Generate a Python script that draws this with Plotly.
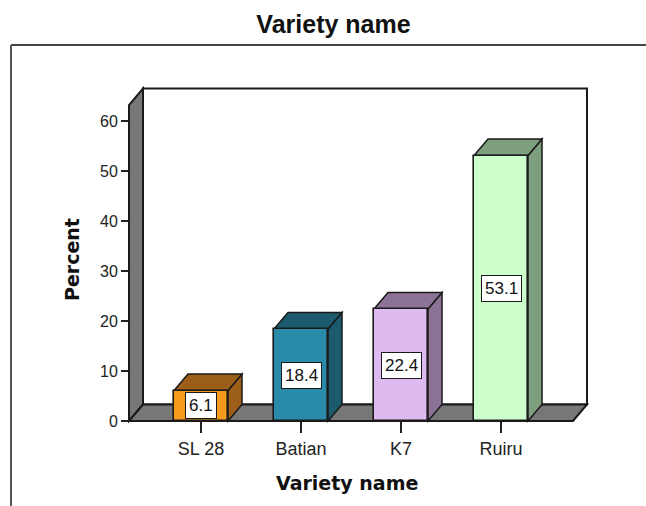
import plotly.graph_objects as go

# Data
categories = ["SL 28", "Batian", "K7", "Ruiru"]
percent = [6.1, 18.4, 22.4, 53.1]
front_colors = ["#F79B1E", "#2A8AAA", "#DDBBF0", "#CCFFCC"]
shade_colors = ["#9C5E18", "#1C5B6E", "#8C7396", "#7E9F7E"]
y_ticks = [0, 10, 20, 30, 40, 50, 60]

# Figure geometry (pixels)
W, H = 646, 506
L, R, T, B = 126, 55, 84, 83
PW, PH = W - L - R, H - T - B

# Axis ranges: 100 px per category step, 5 px per percent
X_RANGE = [-0.75, 3.90]
Y_RANGE = [-0.4, 67.4]

# 3D box: front floor span, wall height and depth offset
XL, XR, YTOP = -0.72, 3.72, 63.2
DX, DY = 0.14, 3.3
BAR_W = 0.54

WALL = "#777777"
EDGE = "#1a1a1a"


def px(x):
    return (x - L) / PW


def py(y):
    return (H - B - y) / PH


def poly(points, fill, width=1.5, layer="below"):
    path = "M " + " L ".join(f"{x},{y}" for x, y in points) + " Z"
    return dict(type="path", path=path, xref="x", yref="y", fillcolor=fill,
                line=dict(color=EDGE, width=width), layer=layer)


xs = list(range(len(categories)))
shapes = []

# back wall
shapes.append(poly([(XL + DX, DY), (XR + DX, DY), (XR + DX, YTOP + DY), (XL + DX, YTOP + DY)], "white", 2))
# left wall
shapes.append(poly([(XL, 0), (XL + DX, DY), (XL + DX, YTOP + DY), (XL, YTOP)], WALL, 2))
# floor
shapes.append(poly([(XL, 0), (XR, 0), (XR + DX, DY), (XL + DX, DY)], WALL, 2))

# side and top faces of each bar
for x, v, c in zip(xs, percent, shade_colors):
    x0, x1 = x - BAR_W / 2, x + BAR_W / 2
    shapes.append(poly([(x1, 0), (x1 + DX, DY), (x1 + DX, v + DY), (x1, v)], c))
    shapes.append(poly([(x0, v), (x1, v), (x1 + DX, v + DY), (x0 + DX, v + DY)], c))

# outer frame lines
shapes.append(dict(type="line", xref="paper", yref="paper", x0=px(11), x1=px(646), y0=py(45), y1=py(45),
                   line=dict(color="#444444", width=2)))
shapes.append(dict(type="line", xref="paper", yref="paper", x0=px(11), x1=px(11), y0=py(45), y1=py(506),
                   line=dict(color="#555555", width=2)))

fig = go.Figure()
fig.add_trace(go.Bar(
    x=xs, y=percent, width=BAR_W,
    marker=dict(color=front_colors, line=dict(color=EDGE, width=1.6)),
    hoverinfo="skip", showlegend=False,
))

annotations = []
for x, v in zip(xs, percent):
    annotations.append(dict(
        x=x, y=v / 2, xref="x", yref="y", text=f"{v:.1f}", showarrow=False,
        font=dict(family="Liberation Sans, Arial", size=17, color="#111111"),
        bgcolor="white", bordercolor=EDGE, borderwidth=1, borderpad=3,
    ))

annotations.append(dict(
    x=px(347), y=py(483), xref="paper", yref="paper", text="<b>Variety name</b>",
    showarrow=False, font=dict(family="DejaVu Sans", size=19, color="#111111"),
    xanchor="center", yanchor="middle",
))
annotations.append(dict(
    x=px(72), y=py(260), xref="paper", yref="paper", text="<b>Percent</b>",
    showarrow=False, textangle=-90, font=dict(family="DejaVu Sans", size=19, color="#111111"),
    xanchor="center", yanchor="middle",
))

fig.update_layout(
    width=W, height=H,
    margin=dict(l=L, r=R, t=T, b=B),
    paper_bgcolor="white", plot_bgcolor="white",
    title=dict(text="<b>Variety name</b>", x=333.5 / W, y=1 - 24 / H,
               xanchor="center", yanchor="middle",
               font=dict(family="Liberation Sans, Arial", size=25, color="#111111")),
    shapes=shapes,
    annotations=annotations,
    xaxis=dict(range=X_RANGE, tickvals=xs, ticktext=categories,
               showgrid=False, zeroline=False, showline=False,
               ticks="outside", ticklen=11, tickwidth=1.5, tickcolor="#222222",
               anchor="free", position=py(421),
               tickfont=dict(family="Liberation Sans, Arial", size=18, color="#222222")),
    yaxis=dict(range=Y_RANGE, tickvals=y_ticks,
               showgrid=False, zeroline=False, showline=False,
               ticks="outside", ticklen=8, tickwidth=1.5, tickcolor="#222222",
               anchor="free", position=px(129),
               tickfont=dict(family="Liberation Sans, Arial", size=16, color="#222222")),
    bargap=0,
)

fig.write_html("out.html")
